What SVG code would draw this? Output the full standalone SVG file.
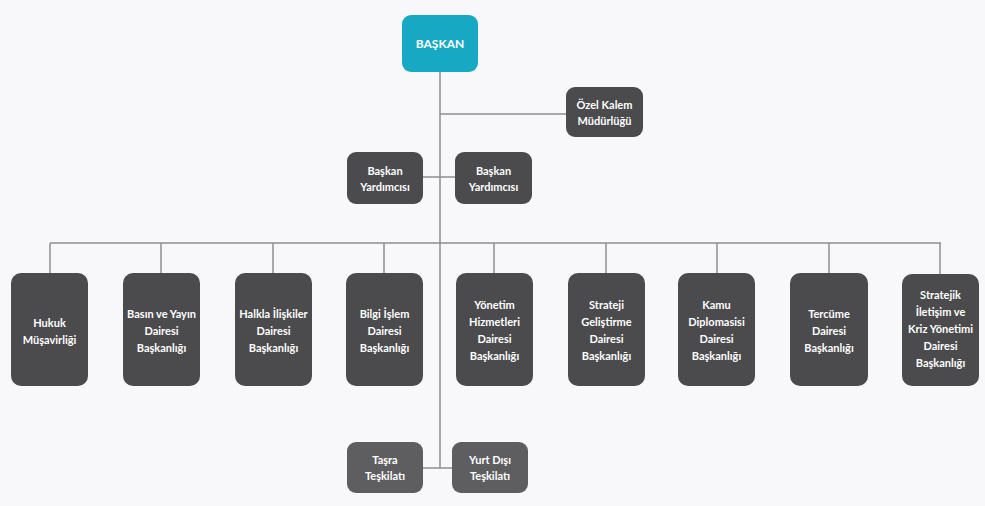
<svg xmlns="http://www.w3.org/2000/svg" width="985" height="506" viewBox="0 0 985 506">
<style>
.bg{fill:#f8f8fa}
.n{fill:#4b4b4d}
.l{fill:#5e5e60}
.top{fill:#17a9c3}
.c{stroke:#8e8e90;stroke-width:1.5;fill:none}
text{font-family:"Lato","Liberation Sans",sans-serif;font-weight:bold;font-size:11px;fill:#ffffff;text-anchor:middle}
</style>
<rect class="bg" x="0" y="0" width="985" height="506"/>
<g id="connectors">
<path class="c" d="M440 72V468"/>
<path class="c" d="M440 114H566"/>
<path class="c" d="M423 177H455"/>
<path class="c" d="M50 243H941"/>
<path class="c" d="M50 243V274M161 243V274M273 243V274M384 243V274M494 243V274M606 243V274M717 243V274M829 243V274M940 243V274"/>
<path class="c" d="M423 468H452"/>
</g>
<g id="baskan"><rect class="top" x="402" y="15" width="76" height="57" rx="9"/><text x="440" y="48" style="font-size:12px">BAŞKAN</text></g>
<g id="ozel-kalem"><rect class="n" x="566" y="87" width="77" height="50" rx="9"/><text x="604.5" y="109">Özel Kalem</text><text x="604.5" y="125">Müdürlüğü</text></g>
<g id="yardimci1"><rect class="n" x="347" y="152" width="76" height="52" rx="9"/><text x="385" y="175">Başkan</text><text x="385" y="191">Yardımcısı</text></g>
<g id="yardimci2"><rect class="n" x="455" y="152" width="77" height="52" rx="9"/><text x="493.5" y="175">Başkan</text><text x="493.5" y="191">Yardımcısı</text></g>
<g id="hukuk"><rect class="n" x="11" y="273" width="77" height="113" rx="10"/><text x="49.5" y="327">Hukuk</text><text x="49.5" y="344">Müşavirliği</text></g>
<g id="basin"><rect class="n" x="123" y="273" width="77" height="113" rx="10"/><text x="161.5" y="318">Basın ve Yayın</text><text x="161.5" y="335">Dairesi</text><text x="161.5" y="352">Başkanlığı</text></g>
<g id="halkla"><rect class="n" x="235" y="273" width="77" height="113" rx="10"/><text x="273.5" y="318">Halkla İlişkiler</text><text x="273.5" y="335">Dairesi</text><text x="273.5" y="352">Başkanlığı</text></g>
<g id="bilgi"><rect class="n" x="346" y="273" width="77" height="113" rx="10"/><text x="384.5" y="318">Bilgi İşlem</text><text x="384.5" y="335">Dairesi</text><text x="384.5" y="352">Başkanlığı</text></g>
<g id="yonetim"><rect class="n" x="456" y="273" width="77" height="113" rx="10"/><text x="494.5" y="309">Yönetim</text><text x="494.5" y="326">Hizmetleri</text><text x="494.5" y="343">Dairesi</text><text x="494.5" y="360">Başkanlığı</text></g>
<g id="strateji"><rect class="n" x="568" y="273" width="77" height="113" rx="10"/><text x="606.5" y="309">Strateji</text><text x="606.5" y="326">Geliştirme</text><text x="606.5" y="343">Dairesi</text><text x="606.5" y="360">Başkanlığı</text></g>
<g id="kamu"><rect class="n" x="678" y="273" width="77" height="113" rx="10"/><text x="716.5" y="309">Kamu</text><text x="716.5" y="326">Diplomasisi</text><text x="716.5" y="343">Dairesi</text><text x="716.5" y="360">Başkanlığı</text></g>
<g id="tercume"><rect class="n" x="790" y="273" width="78" height="113" rx="10"/><text x="829" y="318">Tercüme</text><text x="829" y="335">Dairesi</text><text x="829" y="352">Başkanlığı</text></g>
<g id="stratejik"><rect class="n" x="902" y="274" width="77" height="112" rx="10"/><text x="940.5" y="299">Stratejik</text><text x="940.5" y="316">İletişim ve</text><text x="940.5" y="333">Kriz Yönetimi</text><text x="940.5" y="350">Dairesi</text><text x="940.5" y="367">Başkanlığı</text></g>
<g id="tasra"><rect class="l" x="347" y="442" width="76" height="51" rx="9"/><text x="385" y="464">Taşra</text><text x="385" y="480">Teşkilatı</text></g>
<g id="yurtdisi"><rect class="l" x="452" y="442" width="76" height="51" rx="9"/><text x="490" y="464">Yurt Dışı</text><text x="490" y="480">Teşkilatı</text></g>
</svg>
